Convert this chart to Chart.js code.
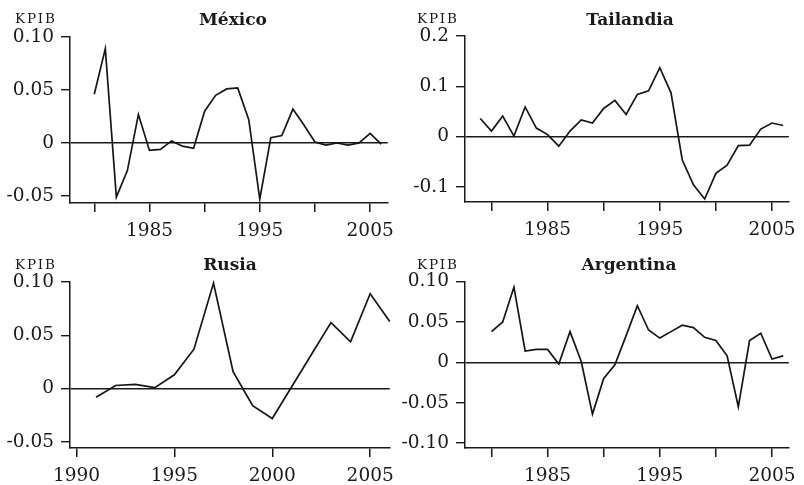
<!DOCTYPE html>
<html>
<head>
<meta charset="utf-8">
<script src="https://cdn.jsdelivr.net/npm/chart.js@4/dist/chart.umd.min.js"></script>
<style>
  html, body { margin: 0; padding: 0; background: #fff; }
  #wrap { position: relative; width: 804px; height: 485px; overflow: hidden; }
  canvas { position: absolute; }
  .title { position: absolute; font-family: "DejaVu Serif", serif; font-weight: bold; font-size: 17px; color: #1a1a1a; text-align: center; width: 200px; line-height: 17px; }
  .kpib { position: absolute; font-family: "DejaVu Serif", serif; font-size: 13.5px; letter-spacing: 1.8px; color: #1a1a1a; line-height: 14px; }
</style>
</head>
<body>
<div id="wrap">
  <canvas id="c0" width="402" height="242" style="left:0;top:0"></canvas>
  <canvas id="c1" width="402" height="242" style="left:402px;top:0"></canvas>
  <canvas id="c2" width="402" height="243" style="left:0;top:242px"></canvas>
  <canvas id="c3" width="402" height="243" style="left:402px;top:242px"></canvas>
  <div class="kpib" style="left:15px;top:11px">KPIB</div>
  <div class="kpib" style="left:417px;top:11px">KPIB</div>
  <div class="kpib" style="left:15px;top:257px">KPIB</div>
  <div class="kpib" style="left:417px;top:257px">KPIB</div>
  <div class="title" style="left:133px;top:11px">México</div>
  <div class="title" style="left:530px;top:11px">Tailandia</div>
  <div class="title" style="left:130px;top:256px">Rusia</div>
  <div class="title" style="left:529px;top:256px">Argentina</div>
</div>
<script>
// ---- Data ----
const mexicoYears = [1980,1981,1982,1983,1984,1985,1986,1987,1988,1989,1990,1991,1992,1993,1994,1995,1996,1997,1998,1999,2000,2001,2002,2003,2004,2005,2006];
const mexicoValues = [0.046,0.089,-0.051,-0.026,0.027,-0.007,-0.006,0.002,-0.003,-0.005,0.030,0.045,0.051,0.052,0.022,-0.053,0.005,0.007,0.032,0.017,0.001,-0.002,0.000,-0.002,0.000,0.009,-0.001];

const tailandiaYears = [1979,1980,1981,1982,1983,1984,1985,1986,1987,1988,1989,1990,1991,1992,1993,1994,1995,1996,1997,1998,1999,2000,2001,2002,2003,2004,2005,2006];
const tailandiaValues = [0.036,0.011,0.041,0.001,0.059,0.017,0.004,-0.019,0.011,0.033,0.027,0.056,0.072,0.044,0.084,0.091,0.137,0.087,-0.046,-0.096,-0.124,-0.073,-0.057,-0.018,-0.017,0.015,0.027,0.022];

const rusiaYears = [1991,1992,1993,1994,1995,1996,1997,1998,1999,2000,2001,2002,2003,2004,2005,2006];
const rusiaValues = [-0.008,0.003,0.004,0.001,0.013,0.037,0.099,0.016,-0.016,-0.028,0.002,0.032,0.062,0.044,0.089,0.063];

const argentinaYears = [1980,1981,1982,1983,1984,1985,1986,1987,1988,1989,1990,1991,1992,1993,1994,1995,1996,1997,1998,1999,2000,2001,2002,2003,2004,2005,2006];
const argentinaValues = [0.038,0.050,0.093,0.014,0.016,0.016,-0.002,0.038,0.001,-0.064,-0.020,-0.003,0.033,0.070,0.040,0.030,0.038,0.046,0.043,0.031,0.027,0.008,-0.055,0.027,0.036,0.004,0.008];

// tick values and labels
const xTicksA = [1980,1985,1990,1995,2000,2005];
const xLabelsA = ['', '1985', '', '1995', '', '2005'];
const xTicksRusia = [1990,1995,2000,2005];
const xLabelsRusia = ['1990','1995','2000','2005'];

const yTicksMexico = [-0.05,0,0.05,0.10];
const yLabelsMexico = ['-0.05','0','0.05','0.10'];
const yTicksTailandia = [-0.1,0,0.1,0.2];
const yLabelsTailandia = ['-0.1','0','0.1','0.2'];
const yTicksRusia = [-0.05,0,0.05,0.10];
const yLabelsRusia = ['-0.05','0','0.05','0.10'];
const yTicksArgentina = [-0.10,-0.05,0,0.05,0.10];
const yLabelsArgentina = ['-0.10','-0.05','0','0.05','0.10'];

const INK = '#1a1a1a';
const FONT = { family: '"DejaVu Serif", serif', size: 18.5 };

function makeChart(id, years, values, p) {
  const canvas = document.getElementById(id);
  const W = canvas.width, H = canvas.height;
  new Chart(canvas, {
    type: 'line',
    data: {
      datasets: [{
        data: years.map((yr, i) => ({ x: yr, y: values[i] })),
        borderColor: '#151515',
        borderWidth: 1.7,
        pointRadius: 0,
        tension: 0,
        fill: false,
        clip: false
      }]
    },
    options: {
      responsive: false,
      animation: false,
      events: [],
      layout: { padding: { left: 0, top: p.top, right: W - p.right, bottom: 0 } },
      plugins: { legend: { display: false }, tooltip: { enabled: false }, title: { display: false } },
      scales: {
        x: {
          type: 'linear',
          min: p.xmin, max: p.xmax,
          afterFit: s => { s.height = H - p.bottom; },
          afterBuildTicks: s => { s.ticks = p.xt.map(v => ({ value: v })); },
          ticks: {
            autoSkip: false, maxRotation: 0, padding: 8, color: INK, font: FONT,
            callback: (v) => { const i = p.xt.indexOf(v); return i >= 0 ? p.xl[i] : ''; }
          },
          grid: { drawOnChartArea: false, drawTicks: true, tickLength: 9, tickColor: INK, lineWidth: 1.5, color: INK },
          border: { display: true, color: INK, width: 1.5 }
        },
        y: {
          type: 'linear',
          min: p.ymin, max: p.ymax,
          afterFit: s => { s.width = p.left; },
          afterBuildTicks: s => { s.ticks = p.yt.map(v => ({ value: v })); },
          ticks: {
            autoSkip: false, padding: 7, color: INK, font: FONT,
            callback: (v) => { const i = p.yt.indexOf(v); return i >= 0 ? p.yl[i] : ''; }
          },
          grid: {
            drawOnChartArea: true, drawTicks: true, tickLength: 9, tickColor: INK, lineWidth: 1.4,
            color: (ctx) => (ctx.tick && ctx.tick.value === 0) ? INK : 'rgba(0,0,0,0)'
          },
          border: { display: true, color: INK, width: 1.5 }
        }
      }
    }
  });
}

makeChart('c0', mexicoYears, mexicoValues, {
  left: 70, right: 396, top: 37, bottom: 203,
  xmin: 1977.8, xmax: 2006.6, ymin: -0.0566, ymax: 0.10,
  xt: xTicksA, xl: xLabelsA, yt: yTicksMexico, yl: yLabelsMexico
});
makeChart('c1', tailandiaYears, tailandiaValues, {
  left: 63, right: 393, top: 36, bottom: 202,
  xmin: 1977.64, xmax: 2006.5, ymin: -0.130, ymax: 0.2,
  xt: xTicksA, xl: xLabelsA, yt: yTicksTailandia, yl: yLabelsTailandia
});
makeChart('c2', rusiaYears, rusiaValues, {
  left: 70, right: 397, top: 40, bottom: 206,
  xmin: 1989.67, xmax: 2006, ymin: -0.0556, ymax: 0.10,
  xt: xTicksRusia, xl: xLabelsRusia, yt: yTicksRusia, yl: yLabelsRusia
});
makeChart('c3', argentinaYears, argentinaValues, {
  left: 63, right: 393, top: 39.5, bottom: 206,
  xmin: 1977.64, xmax: 2006.5, ymin: -0.106, ymax: 0.10,
  xt: xTicksA, xl: xLabelsA, yt: yTicksArgentina, yl: yLabelsArgentina
});
</script>
</body>
</html>
